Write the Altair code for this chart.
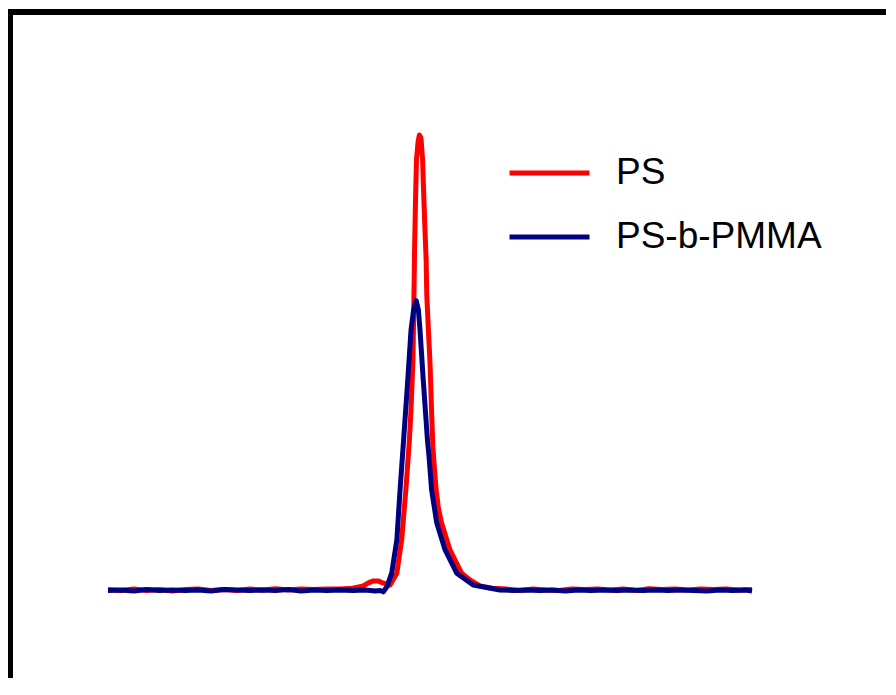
import altair as alt
import pandas as pd

# Elution time (min) and normalised detector signal
ps_time = [10.0, 10.4, 10.8, 11.2, 11.6, 12.0, 12.4, 12.8, 13.2, 13.6, 14.0, 14.4, 14.8,
           15.2, 15.6, 16.0, 16.4, 16.8, 17.2, 17.6, 17.93, 18.07, 18.24, 18.39, 18.55,
           18.76, 18.97, 19.12, 19.25, 19.36, 19.41, 19.47, 19.50, 19.52, 19.55, 19.58,
           19.63, 19.67, 19.72, 19.77, 19.80, 19.84, 19.88, 19.90, 19.95, 20.00, 20.05,
           20.09, 20.14, 20.19, 20.26, 20.36, 20.62, 20.98, 21.24, 21.55, 21.93, 22.38,
           22.8, 23.2, 23.6, 24.0, 24.4, 24.8, 25.2, 25.6, 26.0, 26.4, 26.8, 27.2, 27.6,
           28.0, 28.4, 28.8, 29.2, 29.6, 30.0]
ps_signal = [0.001, -0.001, 0.002, -0.001, 0.001, -0.002, 0.001, 0.002, -0.001, 0.001,
             -0.001, 0.002, 0.000, 0.003, 0.000, 0.002, 0.001, 0.002, 0.002, 0.004,
             0.009, 0.015, 0.020, 0.020, 0.015, 0.011, 0.037, 0.110, 0.220, 0.330, 0.396,
             0.505, 0.637, 0.747, 0.857, 0.945, 0.985, 1.000, 0.993, 0.945, 0.879, 0.798,
             0.725, 0.648, 0.571, 0.499, 0.389, 0.314, 0.264, 0.220, 0.180, 0.147, 0.088,
             0.037, 0.022, 0.009, 0.004, 0.002, -0.001, 0.002, 0.000, -0.001, 0.002,
             0.001, 0.002, 0.000, 0.002, -0.001, 0.003, 0.001, 0.002, 0.000, 0.002,
             0.001, 0.002, 0.000, 0.001]

bcp_time = [10.0, 10.4, 10.8, 11.2, 11.6, 12.0, 12.4, 12.8, 13.2, 13.6, 14.0, 14.4, 14.8,
            15.2, 15.6, 16.0, 16.4, 16.8, 17.2, 17.6, 18.0, 18.3, 18.45, 18.55, 18.66,
            18.81, 18.97, 19.07, 19.18, 19.31, 19.41, 19.49, 19.57, 19.64, 19.69, 19.79,
            19.92, 19.97, 20.05, 20.21, 20.47, 20.83, 21.34, 22.17, 22.6, 23.0, 23.4,
            23.8, 24.2, 24.6, 25.0, 25.4, 25.8, 26.2, 26.6, 27.0, 27.4, 27.8, 28.2, 28.6,
            29.0, 29.4, 29.8, 30.0]
bcp_signal = [-0.001, 0.000, -0.002, 0.001, -0.001, 0.000, -0.001, 0.000, -0.002, 0.001,
              0.000, -0.001, 0.000, -0.001, 0.001, -0.002, 0.000, -0.001, 0.000, -0.001,
              0.000, -0.002, -0.001, -0.004, 0.007, 0.037, 0.110, 0.220, 0.330, 0.462,
              0.571, 0.615, 0.636, 0.615, 0.571, 0.462, 0.330, 0.293, 0.220, 0.147, 0.088,
              0.037, 0.011, 0.000, -0.001, 0.000, -0.001, 0.000, -0.002, 0.000, -0.001,
              0.000, -0.001, 0.000, -0.001, 0.000, -0.001, 0.000, -0.001, -0.002, 0.000,
              -0.001, 0.000, -0.002]

series_names = ["PS", "PS-b-PMMA"]
series_colors = ["#FF0000", "#000080"]

df = pd.concat([
    pd.DataFrame({"time": ps_time, "signal": ps_signal, "sample": series_names[0]}),
    pd.DataFrame({"time": bcp_time, "signal": bcp_signal, "sample": series_names[1]}),
], ignore_index=True)

W, H = 876, 666

lines = alt.Chart(df).mark_line(strokeWidth=5, strokeJoin="round").encode(
    x=alt.X("time:Q", axis=None,
            scale=alt.Scale(domain=[6.9565, 34.161], nice=False, zero=False)),
    y=alt.Y("signal:Q", axis=None,
            scale=alt.Scale(domain=[-0.1934, 1.2703], nice=False, zero=False)),
    color=alt.Color("sample:N",
                    scale=alt.Scale(domain=series_names, range=series_colors),
                    legend=alt.Legend(
                        title=None, orient="none", legendX=497, legendY=136,
                        symbolType="stroke", symbolSize=6400, symbolStrokeWidth=5,
                        labelFontSize=37, labelFont="Liberation Sans",
                        labelColor="black", labelOffset=24, labelLimit=400,
                        clipHeight=50, rowPadding=14, padding=0)),
)

frame_top = alt.Chart(df).mark_rule(color="black", strokeWidth=5, strokeCap="square").encode(
    x=alt.value(0), x2=alt.value(W), y=alt.value(0))
frame_left = alt.Chart(df).mark_rule(color="black", strokeWidth=5, strokeCap="square").encode(
    x=alt.value(0), y=alt.value(0), y2=alt.value(H))

chart = alt.layer(lines, frame_top, frame_left).properties(
    width=W, height=H,
    padding={"left": 2, "top": 4, "right": 0, "bottom": 0},
    autosize=alt.AutoSizeParams(type="none"),
).configure_view(stroke=None).configure(background="white")

chart.save("out.html", embed_options={"renderer": "svg", "actions": False})
